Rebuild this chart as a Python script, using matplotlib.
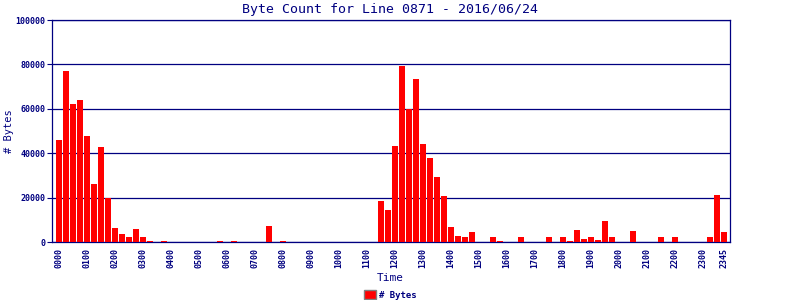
import matplotlib
matplotlib.use("Agg")
import matplotlib.pyplot as plt
import numpy as np

# 15 minute slots, 0000 .. 2345
slots = ["%02d%02d" % (h, m) for h in range(24) for m in (0, 15, 30, 45)]

# bytes per slot
bytes_count = [
    46100, 77200, 62400, 64100, 47900, 26300, 42900, 19800,   # 0000-0145
    6400, 3700, 2400, 6000, 2400, 600, 0, 500,                # 0200-0345
    0, 0, 0, 0, 0, 0, 0, 500,                                 # 0400-0545
    0, 500, 0, 0, 0, 0, 7300, 0,                              # 0600-0745
    600, 0, 0, 0, 0, 0, 0, 0,                                 # 0800-0945
    0, 0, 0, 0, 0, 0, 18600, 14500,                           # 1000-1145
    43400, 79100, 60000, 73600, 44300, 38000, 29400, 20900,   # 1200-1345
    6900, 2800, 2400, 4600, 0, 0, 2400, 600,                  # 1400-1545
    0, 0, 2400, 0, 0, 0, 2400, 0,                             # 1600-1745
    2400, 600, 5500, 1500, 2400, 1000, 9600, 2400,            # 1800-1945
    0, 0, 5000, 0, 0, 0, 2400, 0,                             # 2000-2145
    2400, 0, 0, 0, 0, 2400, 21300, 4600,                      # 2200-2345
]

tick_idx = list(range(0, 96, 4)) + [95]
tick_lab = [slots[i] for i in tick_idx]
yticks = [0, 20000, 40000, 60000, 80000, 100000]

navy = "#000080"
mono = "DejaVu Sans Mono"

fig = plt.figure(figsize=(8, 3), dpi=100)
ax = fig.add_axes([0.0646, 0.1923, 0.8479, 0.741])

x = np.arange(len(bytes_count))
ax.bar(x, bytes_count, width=0.86, color="#ff0000", label="# Bytes", zorder=3)

ax.set_xlim(-1.07, 95.9)
ax.set_ylim(0, 100000)
ax.set_yticks(yticks)
ax.set_yticklabels([str(v) for v in yticks], family=mono, fontsize=6,
                   fontweight="bold", color=navy)
ax.set_xticks(tick_idx)
ax.set_xticklabels(tick_lab, rotation=90, family=mono, fontsize=6,
                   fontweight="bold", color=navy)
ax.tick_params(axis="x", length=0, pad=4)
ax.tick_params(axis="y", length=3.6, width=0.8, color=navy, pad=1)

ax.grid(axis="y", color=navy, linewidth=0.9, zorder=1)
for s in ax.spines.values():
    s.set_color(navy)
    s.set_linewidth(0.9)

fig.text(0.4875, 1 - 10 / 300, "Byte Count for Line 0871 - 2016/06/24",
         ha="center", va="center", family=mono, fontsize=9.5, color=navy)
fig.text(0.4875, 1 - 278 / 300, "Time", ha="center", va="center",
         family=mono, fontsize=8, color=navy)
fig.text(9 / 800, 0.5633, "# Bytes", ha="center", va="center", rotation=90,
         family=mono, fontsize=7.5, color=navy)

leg = fig.legend(loc="center", bbox_to_anchor=(0.4875, 1 - 295 / 300),
                 frameon=False, prop={"family": mono, "size": 6.5, "weight": "bold"},
                 handlelength=1.4, handleheight=1.0, handletextpad=0.3,
                 borderpad=0.1)
for t in leg.get_texts():
    t.set_color(navy)
for p in leg.get_patches():
    p.set_edgecolor("#808080")
    p.set_linewidth(1.0)

fig.savefig("out.png", dpi=100)
